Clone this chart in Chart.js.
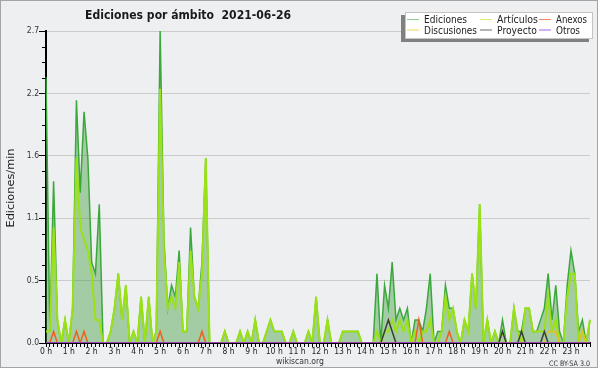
<!DOCTYPE html>
<html lang="es">
<head>
<meta charset="utf-8">
<title>Ediciones por ámbito 2021-06-26</title>
<script src="https://cdn.jsdelivr.net/npm/chart.js@4.4.1/dist/chart.umd.min.js"></script>
<style>
    html, body { margin: 0; padding: 0; background: #fff; }
    #caja { width: 600px; height: 370px; }
</style>
</head>
<body>
<div id="caja"><canvas id="grafico" width="600" height="370"></canvas></div>
<script>
// ============================================ //
// EDICIONES POR ÁMBITO - wikiscan 2021-06-26   //
// ============================================ //

// Franjas de 10 minutos (144 por día)
const franjas = Array.from({ length: 144 }, (_, i) => `${String(Math.floor(i / 6)).padStart(2, '0')}:${i % 6}0`);

// Marcas principales del eje Y
const marcasY = [0, 0.54, 1.08, 1.62, 2.16, 2.7];
const etiquetasY = ['0.0', '0.5', '1.1', '1.6', '2.2', '2.7'];

// Series (ediciones/min), una fila = 2 horas
const ediciones = [
    2.3, 0.1, 1.4, 0.2, 0, 0.2, 0, 0.3, 2.1, 1.3, 2.0, 1.6,
    0.7, 0.6, 1.2, 0, 0, 0.1, 0.3, 0.6, 0.2, 0.5, 0, 0.1,
    0, 0.4, 0, 0.4, 0, 0.1, 2.7, 0.9, 0.3, 0.5, 0.4, 0.8,
    0.1, 0.1, 1.0, 0.4, 0.3, 0.7, 1.6, 0, 0, 0, 0, 0.1,
    0, 0, 0, 0.1, 0, 0.1, 0, 0.2, 0, 0, 0.1, 0.2,
    0.1, 0.1, 0.1, 0, 0, 0.1, 0, 0, 0, 0.1, 0, 0.4,
    0, 0, 0.2, 0, 0, 0, 0.1, 0.1, 0.1, 0.1, 0.1, 0,
    0, 0, 0, 0.6, 0, 0.5, 0.3, 0.7, 0.2, 0.3, 0.2, 0.3,
    0, 0.2, 0.2, 0.1, 0.3, 0.6, 0, 0.1, 0.1, 0.5, 0.3, 0.3,
    0.1, 0, 0.2, 0.1, 0.6, 0.3, 1.2, 0, 0.2, 0, 0.1, 0,
    0.2, 0, 0, 0.3, 0.1, 0.1, 0.3, 0.3, 0.1, 0.1, 0.2, 0.3,
    0.6, 0.2, 0.5, 0.1, 0, 0.5, 0.8, 0.6, 0.1, 0.2, 0, 0.2
];
const articulos = [
    0.1, 0.1, 1.0, 0.2, 0, 0.2, 0, 0.3, 1.6, 1.0, 0.9, 0.8,
    0.6, 0.2, 0.2, 0, 0, 0.1, 0.3, 0.6, 0.2, 0.5, 0, 0.1,
    0, 0.4, 0, 0.4, 0, 0.1, 2.2, 0.8, 0.3, 0.4, 0.3, 0.7,
    0.1, 0.1, 0.8, 0.4, 0.3, 0.6, 1.6, 0, 0, 0, 0, 0.1,
    0, 0, 0, 0.1, 0, 0.1, 0, 0.2, 0, 0, 0.1, 0.2,
    0.1, 0.1, 0.1, 0, 0, 0.1, 0, 0, 0, 0.1, 0, 0.4,
    0, 0, 0.2, 0, 0, 0, 0.1, 0.1, 0.1, 0.1, 0.1, 0,
    0, 0, 0, 0.1, 0, 0.1, 0.1, 0.2, 0.1, 0.2, 0.1, 0.2,
    0, 0.1, 0, 0.1, 0.1, 0.2, 0, 0, 0.1, 0.4, 0.2, 0.3,
    0.1, 0, 0.2, 0.1, 0.6, 0.3, 1.2, 0, 0.2, 0, 0.1, 0,
    0.1, 0, 0, 0.3, 0.1, 0, 0.3, 0.3, 0.1, 0.1, 0.1, 0.1,
    0.4, 0.1, 0.2, 0, 0, 0.4, 0.6, 0.6, 0, 0.1, 0, 0.2
];
const anexos = [
    0, 0, 0.1, 0, 0, 0, 0, 0, 0.1, 0, 0.1, 0,
    0, 0, 0, 0, 0, 0, 0, 0, 0, 0, 0, 0,
    0, 0, 0, 0, 0, 0, 0.1, 0, 0, 0, 0, 0,
    0, 0, 0, 0, 0, 0.1, 0, 0, 0, 0, 0, 0,
    0, 0, 0, 0, 0, 0, 0, 0, 0, 0, 0, 0,
    0, 0, 0, 0, 0, 0, 0, 0, 0, 0, 0, 0,
    0, 0, 0, 0, 0, 0, 0, 0, 0, 0, 0, 0,
    0, 0, 0, 0, 0, 0, 0, 0, 0, 0, 0, 0,
    0, 0, 0.2, 0, 0, 0, 0, 0, 0, 0, 0.1, 0,
    0, 0, 0, 0, 0, 0, 0, 0, 0, 0, 0, 0,
    0, 0, 0, 0, 0, 0, 0, 0, 0, 0, 0, 0,
    0, 0, 0, 0, 0, 0, 0, 0, 0, 0, 0, 0
];
const discusiones = [
    0, 0, 0, 0, 0, 0, 0, 0, 0, 0, 0, 0,
    0, 0, 0, 0, 0, 0, 0, 0, 0, 0, 0, 0,
    0, 0, 0, 0, 0, 0, 0, 0, 0, 0, 0, 0,
    0, 0, 0, 0, 0, 0, 0, 0, 0, 0, 0, 0,
    0, 0, 0, 0, 0, 0, 0, 0, 0, 0, 0, 0,
    0, 0, 0, 0, 0, 0, 0, 0, 0, 0, 0, 0,
    0, 0, 0, 0, 0, 0, 0, 0, 0, 0, 0, 0,
    0, 0, 0, 0, 0, 0, 0, 0, 0, 0, 0, 0,
    0, 0, 0, 0, 0, 0, 0, 0, 0, 0, 0, 0,
    0, 0, 0, 0, 0, 0, 0, 0, 0, 0, 0, 0,
    0, 0, 0, 0, 0, 0, 0, 0, 0, 0, 0, 0,
    0.1, 0.1, 0.1, 0, 0, 0, 0, 0, 0, 0.1, 0, 0
];
const proyecto = [
    0, 0, 0, 0, 0, 0, 0, 0, 0, 0, 0, 0,
    0, 0, 0, 0, 0, 0, 0, 0, 0, 0, 0, 0,
    0, 0, 0, 0, 0, 0, 0, 0, 0, 0, 0, 0,
    0, 0, 0, 0, 0, 0, 0, 0, 0, 0, 0, 0,
    0, 0, 0, 0, 0, 0, 0, 0, 0, 0, 0, 0,
    0, 0, 0, 0, 0, 0, 0, 0, 0, 0, 0, 0,
    0, 0, 0, 0, 0, 0, 0, 0, 0, 0, 0, 0,
    0, 0, 0, 0, 0, 0.1, 0.2, 0.1, 0, 0, 0, 0,
    0, 0, 0, 0, 0, 0, 0, 0, 0, 0, 0, 0,
    0, 0, 0, 0, 0, 0, 0, 0, 0, 0, 0, 0,
    0.1, 0, 0, 0, 0, 0.1, 0, 0, 0, 0, 0, 0.1,
    0, 0, 0, 0, 0, 0, 0, 0, 0, 0, 0, 0
];
const otros = new Array(144).fill(0); // sin ediciones en todo el día

document.addEventListener('DOMContentLoaded', () => {
    const FUENTE = '"DejaVu Sans", sans-serif';
    const FUENTE_EJES = '"DejaVu Sans Condensed", "DejaVu Sans", sans-serif';

    // Texto ajustado a un ancho dado (la fuente original es más estrecha)
    const escribir = (ctx, texto, x, y, ancho, fuente, color, alinear = 'left') => {
        ctx.save();
        ctx.font = fuente;
        ctx.fillStyle = color;
        ctx.textBaseline = 'alphabetic';
        ctx.textAlign = alinear;
        const k = ancho / ctx.measureText(texto).width;
        ctx.translate(x, y);
        ctx.scale(k, 1);
        ctx.fillText(texto, 0, 0);
        ctx.restore();
    };

    // Fondo, marco, título, leyenda y créditos
    const decorado = {
        id: 'decorado',
        beforeDraw: (chart) => {
            const ctx = chart.ctx;
            ctx.save();
            ctx.fillStyle = '#ffffff';
            ctx.fillRect(0, 0, 600, 370);
            ctx.fillStyle = '#eeeff1';
            ctx.fillRect(0, 0, 598, 368);
            ctx.restore();
        },
        afterDraw: (chart) => {
            const ctx = chart.ctx;
            const { left } = chart.chartArea;
            const y = chart.scales.y;
            ctx.save();

            // marcas secundarias del eje Y
            ctx.strokeStyle = '#000';
            ctx.lineWidth = 1;
            ctx.beginPath();
            y.ticks.forEach(t => {
                if (t.principal) return;
                const py = Math.round(y.getPixelForValue(t.value)) + 0.5;
                ctx.moveTo(left - 4, py);
                ctx.lineTo(left, py);
            });
            ctx.stroke();

            // marco exterior
            ctx.strokeStyle = '#a4a4a4';
            ctx.strokeRect(0.5, 0.5, 597, 367);

            // título
            escribir(ctx, 'Ediciones por ámbito  2021-06-26', 85, 18.5, 206, `bold 12px ${FUENTE}`, '#1a1a1a');

            // título del eje Y
            ctx.save();
            ctx.translate(14, 188);
            ctx.rotate(-Math.PI / 2);
            escribir(ctx, 'Ediciones/min', 0, 0, 79, `10.5px ${FUENTE}`, '#1a1a1a', 'center');
            ctx.restore();

            // leyenda
            ctx.fillStyle = '#808080';
            ctx.fillRect(401, 15, 188, 27);
            ctx.fillStyle = '#ffffff';
            ctx.fillRect(405, 12, 188, 27);
            ctx.strokeStyle = '#c4c4c4';
            ctx.strokeRect(405.5, 12.5, 187, 26);
            const items = [
                { texto: 'Ediciones', color: '#8fd18f', x: 407, y: 19, ancho: 43 },
                { texto: 'Discusiones', color: '#f4d45a', x: 407, y: 29.5, ancho: 53 },
                { texto: 'Artículos', color: '#d6f26a', x: 480, y: 19, ancho: 41 },
                { texto: 'Proyecto', color: '#6a6a6a', x: 480, y: 29.5, ancho: 40 },
                { texto: 'Anexos', color: '#f08a5c', x: 539, y: 19, ancho: 31 },
                { texto: 'Otros', color: '#a064f0', x: 539, y: 29.5, ancho: 24 }
            ];
            items.forEach(it => {
                ctx.strokeStyle = it.color;
                ctx.lineWidth = 1;
                ctx.beginPath();
                ctx.moveTo(it.x, it.y + 0.5);
                ctx.lineTo(it.x + 12, it.y + 0.5);
                ctx.stroke();
                escribir(ctx, it.texto, it.x + 17, it.y + 4, it.ancho, `10.5px ${FUENTE}`, '#222');
            });

            // créditos
            escribir(ctx, 'wikiscan.org', 300, 363.5, 48, `9px ${FUENTE}`, '#333', 'center');
            escribir(ctx, 'CC BY-SA 3.0', 549, 365.5, 41, `7.5px ${FUENTE}`, '#333');
            ctx.restore();
        }
    };

    const serie = (label, data, color, orden, extra = {}) => ({
        label, data, borderColor: color, borderWidth: 1.5, pointRadius: 0,
        fill: false, tension: 0, order: orden, ...extra
    });

    const ctx = document.getElementById('grafico').getContext('2d');
    new Chart(ctx, {
        type: 'line',
        data: {
            labels: franjas,
            datasets: [
                serie('Ediciones', ediciones, '#3ba83b', 6, { fill: 'origin', backgroundColor: 'rgba(70, 160, 70, 0.45)' }),
                serie('Artículos', articulos, '#9be214', 5, { borderWidth: 2 }),
                serie('Discusiones', discusiones, '#e8bf1c', 4),
                serie('Proyecto', proyecto, '#3c3c3c', 3),
                serie('Anexos', anexos, '#ee6020', 2),
                serie('Otros', otros, '#9040e8', 1)
            ]
        },
        options: {
            responsive: false,
            animation: false,
            layout: { padding: { top: 31, right: 10, left: 0, bottom: 0 } },
            plugins: { legend: { display: false }, tooltip: { enabled: false }, title: { display: false } },
            scales: {
                x: {
                    type: 'category',
                    offset: false,
                    z: 1,
                    border: { color: '#000', width: 2 },
                    grid: { drawOnChartArea: false, tickLength: 4, tickColor: '#000', tickWidth: 1 },
                    ticks: {
                        autoSkip: false, maxRotation: 0, minRotation: 0, padding: 0,
                        color: '#222', font: { family: FUENTE_EJES, size: 8.5 },
                        callback: (v, i) => (i % 6 === 0 ? `${i / 6} h` : '')
                    },
                    afterFit: (s) => { s.height = 27; }
                },
                y: {
                    min: 0,
                    max: 2.7,
                    border: { color: '#000', width: 2 },
                    afterBuildTicks: (s) => {
                        const lista = [];
                        marcasY.forEach((v, i) => {
                            lista.push({ value: v, principal: true, texto: etiquetasY[i] });
                            if (i < marcasY.length - 1) {
                                for (let k = 1; k < 4; k++) lista.push({ value: v + (marcasY[i + 1] - v) * k / 4, principal: false });
                            }
                        });
                        s.ticks = lista;
                    },
                    grid: {
                        color: (c) => (c.tick && c.tick.principal ? '#cbcbcb' : 'rgba(0,0,0,0)'),
                        tickColor: (c) => (c.tick && c.tick.principal ? '#000' : 'rgba(0,0,0,0)'),
                        tickLength: 7,
                        lineWidth: 1
                    },
                    ticks: {
                        padding: 0,
                        color: '#333',
                        font: { family: FUENTE_EJES, size: 8.5 },
                        callback: (v, i, ticks) => (ticks[i].principal ? ticks[i].texto : '')
                    },
                    afterFit: (s) => { s.width = 46; }
                }
            }
        },
        plugins: [decorado]
    });
});
</script>
</body>
</html>
